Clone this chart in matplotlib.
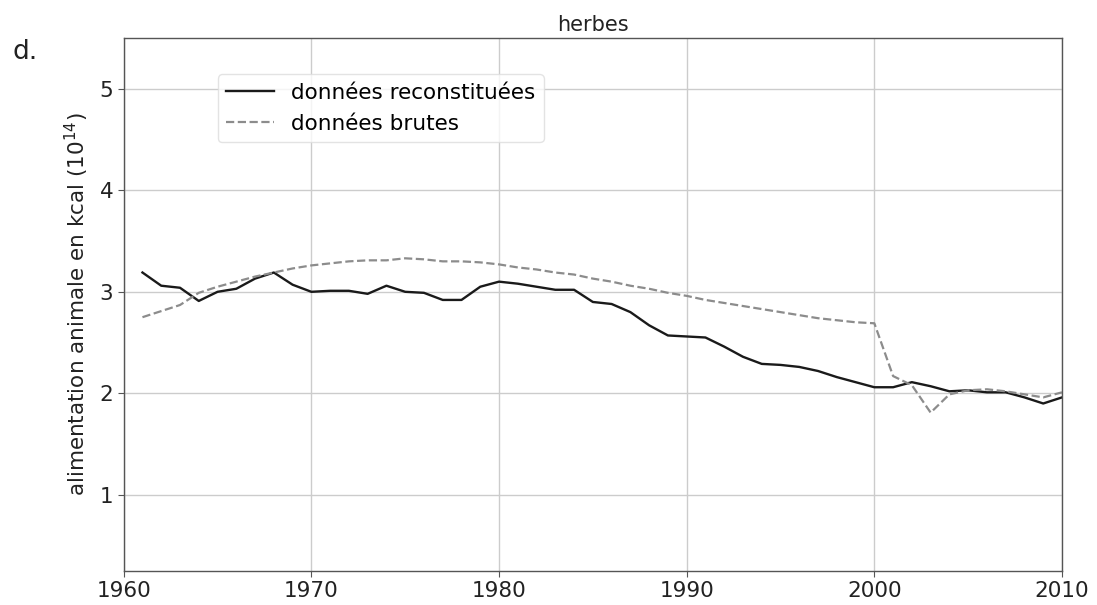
import matplotlib.pyplot as plt


# =========================================
# DATA
# =========================================

years = list(range(1961, 2011))

reconstituees = [
    3.19, 3.06, 3.04, 2.91, 3.00, 3.03, 3.13, 3.19, 3.07, 3.00,
    3.01, 3.01, 2.98, 3.06, 3.00, 2.99, 2.92, 2.92, 3.05, 3.10,
    3.08, 3.05, 3.02, 3.02, 2.90, 2.88, 2.80, 2.67, 2.57, 2.56,
    2.55, 2.46, 2.36, 2.29, 2.28, 2.26, 2.22, 2.16, 2.11, 2.06,
    2.06, 2.11, 2.07, 2.02, 2.03, 2.01, 2.01, 1.96, 1.90, 1.96
]

brutes = [
    2.75, 2.81, 2.87, 2.99, 3.05, 3.10, 3.15, 3.19, 3.23, 3.26,
    3.28, 3.30, 3.31, 3.31, 3.33, 3.32, 3.30, 3.30, 3.29, 3.27,
    3.24, 3.22, 3.19, 3.17, 3.13, 3.10, 3.06, 3.03, 2.99, 2.96,
    2.92, 2.89, 2.86, 2.83, 2.80, 2.77, 2.74, 2.72, 2.70, 2.69,
    2.17, 2.08, 1.81, 1.99, 2.03, 2.04, 2.02, 1.99, 1.96, 2.01
]

x_ticks = [1960, 1970, 1980, 1990, 2000, 2010]
y_ticks = [1, 2, 3, 4, 5]


# =========================================
# FIGURE
# =========================================

plt.rcParams["font.family"] = "DejaVu Sans"

FS = 15.5

fig = plt.figure(figsize=(10.97, 6.05), dpi=100)

ax = fig.add_axes([123.7 / 1097, 1 - 571 / 605, 938.3 / 1097, 533 / 605])

ax.plot(
    years,
    reconstituees,
    color="#1a1a1a",
    linewidth=1.7,
    label="données reconstituées"
)

ax.plot(
    years,
    brutes,
    color="#8c8c8c",
    linewidth=1.6,
    linestyle="--",
    label="données brutes"
)

ax.set_xlim(1960, 2010)
ax.set_ylim(0.25, 5.5)

ax.set_xticks(x_ticks)
ax.set_yticks(y_ticks)

ax.grid(True, color="#cccccc", linewidth=1.0)
ax.set_axisbelow(True)

for spine in ax.spines.values():
    spine.set_color("#555555")
    spine.set_linewidth(1.0)

ax.tick_params(labelsize=FS, colors="#222222", length=4, color="#555555")

ax.set_title("herbes", fontsize=FS - 0.5, color="#222222", pad=5)

ax.set_ylabel(
    "alimentation animale en kcal ($10^{14}$)",
    fontsize=FS,
    color="#222222",
    labelpad=6
)

# =====================================
# LEGEND
# =====================================

legend = ax.legend(
    loc="upper left",
    bbox_to_anchor=(0.1, 0.932),
    borderaxespad=0,
    fontsize=FS,
    handlelength=2.2,
    fancybox=True,
    framealpha=0.8
)
legend.get_frame().set_edgecolor("#dddddd")

fig.text(12 / 1097, 1 - 52 / 605, "d.", fontsize=19, va="center", color="#222222")

fig.savefig("out.png", dpi=100)

plt.close()
